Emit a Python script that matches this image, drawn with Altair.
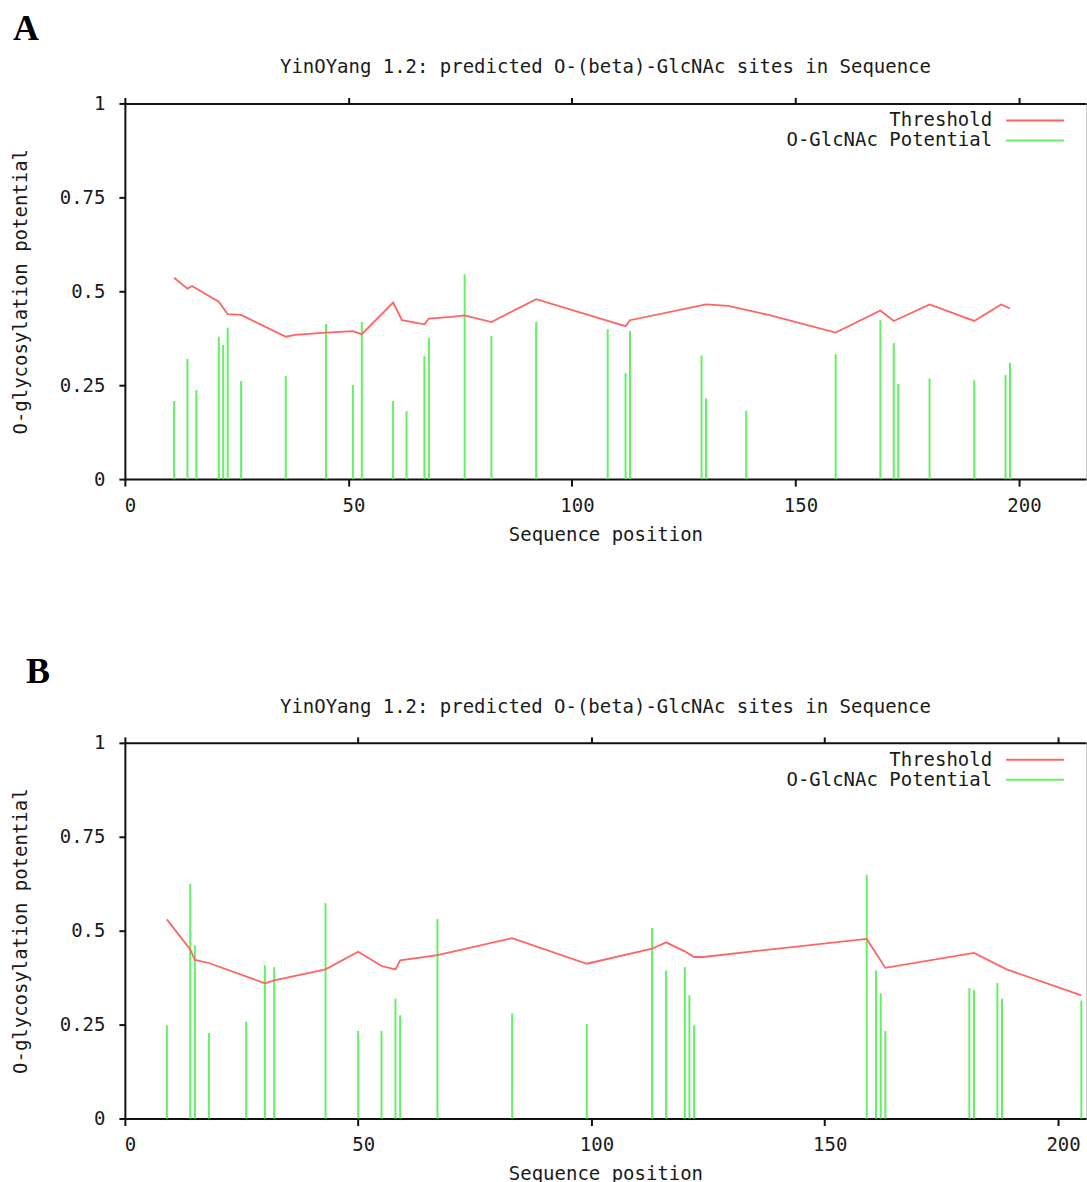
import altair as alt
import pandas as pd

# ---------------- data ----------------
series_names = ["Threshold", "O-GlcNAc Potential"]
title_text = "YinOYang 1.2: predicted O-(beta)-GlcNAc sites in Sequence"
x_ticks = [0, 50, 100, 150, 200]
y_ticks = [0, 0.25, 0.5, 0.75, 1]

# Panel A
a_pos = [11, 14, 16, 21, 22, 23, 26, 36, 45, 51, 53, 60, 63, 67, 68, 76, 82, 92,
         108, 112, 113, 129, 130, 139, 159, 169, 172, 173, 180, 190, 197, 198]
a_pot = [0.208, 0.320, 0.237, 0.379, 0.357, 0.403, 0.261, 0.275, 0.413, 0.251,
         0.419, 0.208, 0.181, 0.328, 0.376, 0.545, 0.381, 0.418, 0.399, 0.282,
         0.394, 0.329, 0.215, 0.182, 0.333, 0.423, 0.362, 0.253, 0.268, 0.263,
         0.277, 0.310]
a_thr_pos = [11, 14, 15, 21, 23, 26, 36, 38, 45, 51, 53, 60, 62, 67, 68, 73, 76,
             82, 92, 112, 113, 130, 135, 144, 159, 169, 172, 180, 190, 196, 198]
a_thr = [0.536, 0.507, 0.514, 0.472, 0.439, 0.437, 0.379, 0.384, 0.390, 0.394,
         0.386, 0.470, 0.423, 0.412, 0.427, 0.432, 0.436, 0.418, 0.479, 0.407,
         0.423, 0.465, 0.461, 0.437, 0.390, 0.449, 0.421, 0.465, 0.421, 0.465,
         0.454]

# Panel B
b_pos = [9, 14, 15, 18, 26, 30, 32, 43, 50, 55, 58, 59, 67, 83, 99, 113, 116,
         120, 121, 122, 159, 161, 162, 163, 181, 182, 187, 188, 205]
b_pot = [0.248, 0.625, 0.461, 0.228, 0.257, 0.408, 0.403, 0.573, 0.233, 0.233,
         0.319, 0.275, 0.531, 0.280, 0.252, 0.507, 0.394, 0.403, 0.328, 0.248,
         0.649, 0.394, 0.333, 0.233, 0.347, 0.342, 0.361, 0.319, 0.314]
b_thr_pos = [9, 14, 15, 18, 30, 32, 43, 50, 55, 58, 59, 67, 83, 99, 113, 116,
             120, 122, 124, 136, 159, 163, 182, 189, 205]
b_thr = [0.530, 0.450, 0.422, 0.414, 0.360, 0.368, 0.397, 0.444, 0.406, 0.397,
         0.421, 0.435, 0.480, 0.412, 0.452, 0.469, 0.445, 0.430, 0.430, 0.447,
         0.478, 0.401, 0.441, 0.397, 0.328]

# ---------------- styling ----------------
RED = "#ff6464"
GREEN = "#64f064"
FONT = "DejaVu Sans Mono"
FS = 19
TXT = "#1a1a1a"
AX = "#111111"
W, H = 962, 376


def one_row(v):
    return pd.DataFrame({"s": [v]})


def panel(letter, letter_x, letter_y, pos, pot, tpos, tval, xmax):
    bars_df = pd.DataFrame({"pos": pos, "pot": pot})
    thr_df = pd.DataFrame({"pos": tpos, "thr": tval})
    xs = alt.Scale(domain=[0, xmax], nice=False, zero=False)
    ys = alt.Scale(domain=[0, 1], nice=False)

    bars = alt.Chart(bars_df).mark_rule(color=GREEN, strokeWidth=2).encode(
        x=alt.X("pos:Q", scale=xs, axis=alt.Axis(
            orient="bottom", values=x_ticks, title="Sequence position",
            grid=False, tickSize=7, tickWidth=2, tickColor=AX,
            domainColor=AX, domainWidth=2,
            labelFont=FONT, labelFontSize=FS, labelColor=TXT,
            labelPadding=19, labelBaseline="middle", labelOffset=5,
            labelFlush=False,
            titleFont=FONT, titleFontSize=FS, titleFontWeight="normal",
            titleColor=TXT, titleY=55, titleBaseline="middle")),
        y=alt.Y("pot:Q", scale=ys, axis=alt.Axis(
            orient="left", values=y_ticks, format=".2~f",
            title="O-glycosylation potential",
            grid=False, tickSize=6, tickWidth=2, tickColor=AX,
            domainColor=AX, domainWidth=2,
            labelFont=FONT, labelFontSize=FS, labelColor=TXT,
            labelPadding=14, labelFlush=False,
            titleFont=FONT, titleFontSize=FS, titleFontWeight="normal",
            titleColor=TXT, titleX=-104, titleBaseline="middle")),
        y2=alt.datum(0),
    )

    thr = alt.Chart(thr_df).mark_line(color=RED, strokeWidth=1.8).encode(
        x=alt.X("pos:Q", scale=xs, axis=alt.Axis(
            orient="top", values=x_ticks, labels=False, title=None, grid=False,
            tickSize=6, tickWidth=2, tickColor=AX, domainColor=AX,
            domainWidth=2)),
        y=alt.Y("thr:Q", scale=ys, axis=None),
    )

    ttl = alt.Chart(one_row(title_text)).mark_text(
        align="center", baseline="middle", font=FONT, fontSize=FS, color=TXT
    ).encode(text="s:N", x=alt.value(W / 2), y=alt.value(-36))

    leg1_txt = alt.Chart(one_row(series_names[0])).mark_text(
        align="right", baseline="middle", font=FONT, fontSize=FS, color=TXT
    ).encode(text="s:N", x=alt.value(868), y=alt.value(17))
    leg2_txt = alt.Chart(one_row(series_names[1])).mark_text(
        align="right", baseline="middle", font=FONT, fontSize=FS, color=TXT
    ).encode(text="s:N", x=alt.value(868), y=alt.value(37))
    leg1_line = alt.Chart(one_row(series_names[0])).mark_rule(
        color=RED, strokeWidth=2
    ).encode(x=alt.value(882), x2=alt.value(940), y=alt.value(17))
    leg2_line = alt.Chart(one_row(series_names[1])).mark_rule(
        color=GREEN, strokeWidth=2
    ).encode(x=alt.value(882), x2=alt.value(940), y=alt.value(37))

    lab = alt.Chart(one_row(letter)).mark_text(
        align="left", baseline="alphabetic", font="Liberation Serif",
        fontSize=36, fontWeight="bold", color="#000000"
    ).encode(text="s:N", x=alt.value(letter_x), y=alt.value(letter_y))

    return alt.layer(
        bars, thr, ttl, leg1_txt, leg2_txt, leg1_line, leg2_line, lab
    ).resolve_axis(x="independent", y="independent").properties(
        width=W, height=H
    )


pa = panel("A", -112, -64, a_pos, a_pot, a_thr_pos, a_thr, 215)
pb = panel("B", -99, -60, b_pos, b_pot, b_thr_pos, b_thr, 206)

chart = alt.vconcat(pa, pb, spacing=264, bounds="flush").properties(
    padding={"left": 11, "top": 9, "right": 0, "bottom": 0},
    background="white",
).configure_view(stroke="#c8c8c8", strokeWidth=1)

chart.save("out.html", embed_options={"renderer": "svg", "actions": False})
